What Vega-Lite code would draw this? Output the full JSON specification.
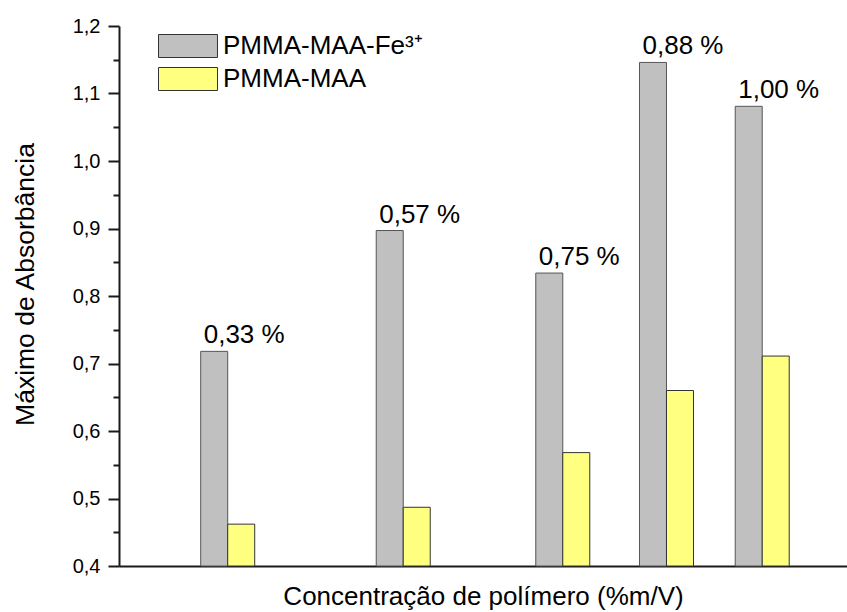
{
  "$schema": "https://vega.github.io/schema/vega-lite/v6.json",
  "width": 728,
  "height": 540,
  "autosize": {"type": "none"},
  "padding": {"left": 119, "top": 26, "right": 0, "bottom": 46},
  "background": "white",
  "config": {
    "view": {"stroke": null},
    "font": "Liberation Sans",
    "axis": {"grid": false}
  },
  "data": {
    "values": [
      {"pos": 0.33, "label": "0,33 %", "series": "PMMA-MAA-Fe³⁺", "value": 0.718},
      {"pos": 0.55, "label": "0,57 %", "series": "PMMA-MAA-Fe³⁺", "value": 0.897},
      {"pos": 0.75, "label": "0,75 %", "series": "PMMA-MAA-Fe³⁺", "value": 0.834},
      {"pos": 0.88, "label": "0,88 %", "series": "PMMA-MAA-Fe³⁺", "value": 1.146},
      {"pos": 1.0, "label": "1,00 %", "series": "PMMA-MAA-Fe³⁺", "value": 1.081},
      {"pos": 0.33, "label": "0,33 %", "series": "PMMA-MAA", "value": 0.462},
      {"pos": 0.55, "label": "0,57 %", "series": "PMMA-MAA", "value": 0.487},
      {"pos": 0.75, "label": "0,75 %", "series": "PMMA-MAA", "value": 0.568},
      {"pos": 0.88, "label": "0,88 %", "series": "PMMA-MAA", "value": 0.660},
      {"pos": 1.0, "label": "1,00 %", "series": "PMMA-MAA", "value": 0.711}
    ]
  },
  "encoding": {
    "x": {
      "field": "pos",
      "type": "quantitative",
      "scale": {"domain": [0.2, 1.1], "nice": false, "zero": false},
      "axis": {
        "orient": "bottom",
        "ticks": false,
        "labels": false,
        "domainColor": "#1a1a1a",
        "domainWidth": 2,
        "title": "Concentração de polímero (%m/V)",
        "titleFont": "Liberation Sans",
        "titleFontSize": 26,
        "titleFontWeight": "normal",
        "titleColor": "black",
        "titleBaseline": "alphabetic",
        "titleX": 364,
        "titleY": 38
      }
    },
    "y": {
      "field": "value",
      "type": "quantitative",
      "scale": {"domain": [0.4, 1.2], "nice": false, "zero": false},
      "axis": {
        "values": [0.4, 0.45, 0.5, 0.55, 0.6, 0.65, 0.7, 0.75, 0.8, 0.85, 0.9, 0.95, 1.0, 1.05, 1.1, 1.15, 1.2],
        "labelExpr": "round(datum.value*100) % 10 === 0 ? replace(format(datum.value, '.1f'), '.', ',') : ''",
        "labelOverlap": false,
        "labelFontSize": 20,
        "labelColor": "black",
        "labelPadding": 8,
        "tickSize": {"condition": {"test": "round(datum.value*100) % 10 === 0", "value": 11}, "value": 6},
        "tickWidth": 2,
        "tickColor": "#1a1a1a",
        "domainColor": "#1a1a1a",
        "domainWidth": 2,
        "title": "Máximo de Absorbância",
        "titleFont": "Liberation Sans",
        "titleFontSize": 26.5,
        "titleFontWeight": "normal",
        "titleColor": "black",
        "titleAngle": -90,
        "titleBaseline": "alphabetic",
        "titleAlign": "center",
        "titleX": -86,
        "titleY": 258
      }
    }
  },
  "layer": [
    {
      "transform": [{"filter": "datum.series === 'PMMA-MAA-Fe³⁺'"}],
      "mark": {"type": "bar", "width": 27, "xOffset": -13.5, "stroke": "#555555", "strokeWidth": 1},
      "encoding": {
        "y2": {"datum": 0.4},
        "color": {
          "field": "series",
          "type": "nominal",
          "scale": {"domain": ["PMMA-MAA-Fe³⁺", "PMMA-MAA"], "range": ["#c0c0c0", "#ffff80"]},
          "legend": {
            "title": null,
            "orient": "none",
            "legendX": 56,
            "legendY": 7,
            "padding": 0,
            "symbolType": "M-2.565,-1H2.565V1H-2.565Z",
            "symbolSize": 529,
            "symbolStrokeColor": "#444444",
            "symbolStrokeWidth": 1,
            "symbolOpacity": 1,
            "labelFont": "Liberation Sans",
            "labelFontSize": 26,
            "labelColor": "black",
            "labelOffset": 22,
            "labelLimit": 400,
            "rowPadding": 5
          }
        }
      }
    },
    {
      "transform": [{"filter": "datum.series === 'PMMA-MAA'"}],
      "mark": {"type": "bar", "width": 27, "xOffset": 13.5, "stroke": "#333333", "strokeWidth": 1},
      "encoding": {
        "y2": {"datum": 0.4},
        "color": {"field": "series", "type": "nominal"}
      }
    },
    {
      "transform": [{"filter": "datum.series === 'PMMA-MAA-Fe³⁺'"}],
      "mark": {"type": "text", "align": "left", "baseline": "alphabetic", "dx": -24, "dy": -8, "fontSize": 26, "font": "Liberation Sans", "color": "black"},
      "encoding": {"text": {"field": "label"}}
    }
  ]
}
